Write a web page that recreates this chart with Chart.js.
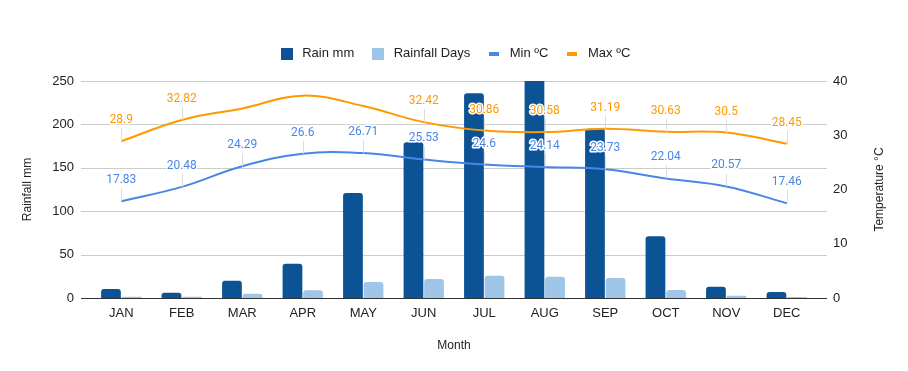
<!DOCTYPE html>
<html>
<head>
<meta charset="utf-8">
<script src="https://cdn.jsdelivr.net/npm/chart.js@4/dist/chart.umd.min.js"></script>
<style>
  html, body { margin: 0; padding: 0; background: #ffffff; }
  #wrap { width: 908px; height: 371px; position: relative; }
</style>
</head>
<body>
<div id="wrap"><canvas id="c" width="908" height="371"></canvas></div>
<script>
// ---- data ----
const months = ['JAN', 'FEB', 'MAR', 'APR', 'MAY', 'JUN', 'JUL', 'AUG', 'SEP', 'OCT', 'NOV', 'DEC'];
const rainMm = [10.5, 6, 20, 39.5, 121, 179.5, 236, 265, 195, 71, 13, 7];
const rainfallDays = [1.5, 1.5, 5, 9, 18.5, 22, 25.5, 24.5, 23, 9.2, 2.5, 1.2];
const minTemp = [17.83, 20.48, 24.29, 26.6, 26.71, 25.53, 24.6, 24.14, 23.73, 22.04, 20.57, 17.46];
const maxTemp = [28.9, 32.82, 34.95, 37.3, 35.4, 32.42, 30.86, 30.58, 31.19, 30.63, 30.5, 28.45];
const maxLabelShown = [true, true, false, false, false, true, true, true, true, true, true, true];
const minLabelShown = [true, true, true, true, true, true, true, true, true, true, true, true];
const rainTicks = [0, 50, 100, 150, 200, 250];
const tempTicks = [0, 10, 20, 30, 40];
const rightTitle = 'Temperature °C';

const C_RAIN = '#0b5394';
const C_DAYS = '#9fc5e8';
const C_MIN = '#4a86e8';
const C_MAX = '#ff9900';
const FONT = "'Liberation Sans', Arial, sans-serif";

function iconRect(color) {
  const cv = document.createElement('canvas');
  cv.width = 12; cv.height = 12;
  const g = cv.getContext('2d');
  g.fillStyle = color; g.fillRect(0, 0, 12, 12);
  return cv;
}
function iconLine(color) {
  const cv = document.createElement('canvas');
  cv.width = 10; cv.height = 4;
  const g = cv.getContext('2d');
  g.fillStyle = color; g.fillRect(0, 0, 10, 4);
  return cv;
}
const icons = [iconRect(C_RAIN), iconRect(C_DAYS), iconLine(C_MIN), iconLine(C_MAX)];

// custom horizontal gridlines extending 10px beyond the category area
const gridPlugin = {
  id: 'gridExt',
  beforeDatasetsDraw(chart) {
    const ctx = chart.ctx, a = chart.chartArea, y = chart.scales.y;
    ctx.save();
    y.ticks.forEach(t => {
      const py = Math.round(y.getPixelForValue(t.value)) + 0.5;
      ctx.strokeStyle = t.value === 0 ? '#333333' : '#cccccc';
      ctx.lineWidth = 1;
      ctx.beginPath();
      ctx.moveTo(a.left - 10, py);
      ctx.lineTo(a.right + 10, py);
      ctx.stroke();
    });
    ctx.restore();
  },
  afterDraw(chart) {
    const ctx = chart.ctx, a = chart.chartArea;
    ctx.save();
    ctx.translate(880, (a.top + a.bottom) / 2);
    ctx.rotate(-Math.PI / 2);
    ctx.font = '12px ' + FONT;
    ctx.fillStyle = '#222222';
    ctx.textAlign = 'center';
    ctx.textBaseline = 'middle';
    ctx.fillText(rightTitle, 0, 0);
    ctx.restore();
  }
};

// legend height patch
const legendPatch = {
  id: 'legendPatch',
  beforeLayout(chart) {
    const lg = chart.legend;
    if (lg && !lg._patched) {
      const f = lg.fit.bind(lg);
      lg.fit = function () { f(); this.height = 49; };
      lg._patched = true;
    }
  }
};

// data labels with leader lines
const labelPlugin = {
  id: 'pointLabels',
  afterDatasetsDraw(chart) {
    const ctx = chart.ctx;
    const defs = [
      { idx: 2, values: minTemp, shown: minLabelShown, color: C_MIN },
      { idx: 3, values: maxTemp, shown: maxLabelShown, color: C_MAX }
    ];
    ctx.save();
    ctx.font = "12px Roboto, Arial, sans-serif";
    ctx.textAlign = 'center';
    ctx.textBaseline = 'middle';
    defs.forEach(d => {
      const meta = chart.getDatasetMeta(d.idx);
      meta.data.forEach((pt, i) => {
        if (!d.shown[i]) return;
        const x = pt.x, y = pt.y, ly = y - 21;
        ctx.strokeStyle = '#dddddd';
        ctx.lineWidth = 1;
        ctx.beginPath();
        ctx.moveTo(Math.round(x) + 0.5, y);
        ctx.lineTo(Math.round(x) + 0.5, ly + 8);
        ctx.stroke();
      });
    });
    defs.forEach(d => {
      const meta = chart.getDatasetMeta(d.idx);
      meta.data.forEach((pt, i) => {
        if (!d.shown[i]) return;
        const txt = String(d.values[i]);
        const x = pt.x, ly = pt.y - 21;
        ctx.lineWidth = 3;
        ctx.lineJoin = 'round';
        ctx.strokeStyle = '#ffffff';
        ctx.strokeText(txt, x, ly);
        ctx.fillStyle = d.color;
        ctx.fillText(txt, x, ly);
      });
    });
    ctx.restore();
  }
};

new Chart(document.getElementById('c'), {
  data: {
    labels: months,
    datasets: [
      { type: 'bar', label: 'Rain mm', data: rainMm, backgroundColor: C_RAIN, yAxisID: 'y',
        borderRadius: 3, borderSkipped: 'bottom', categoryPercentage: 0.68, barPercentage: 0.96, order: 2 },
      { type: 'bar', label: 'Rainfall Days', data: rainfallDays, backgroundColor: C_DAYS, yAxisID: 'y',
        borderRadius: 3, borderSkipped: 'bottom', categoryPercentage: 0.68, barPercentage: 0.96, order: 2 },
      { type: 'line', label: 'Min ºC', data: minTemp, borderColor: C_MIN, backgroundColor: C_MIN, yAxisID: 'y1',
        borderWidth: 2, pointRadius: 0, tension: 0.4, order: 1 },
      { type: 'line', label: 'Max ºC', data: maxTemp, borderColor: C_MAX, backgroundColor: C_MAX, yAxisID: 'y1',
        borderWidth: 2, pointRadius: 0, tension: 0.4, order: 0 }
    ]
  },
  options: {
    responsive: false,
    animation: false,
    devicePixelRatio: 1,
    layout: { padding: { top: 32, left: 0, right: 0, bottom: 0 } },
    plugins: {
      tooltip: { enabled: false },
      legend: {
        position: 'top',
        align: 'center',
        labels: {
          usePointStyle: true,
          pointStyleWidth: 18,
          padding: 15,
          color: '#222222',
          font: { family: FONT, size: 13 },
          sort: (a, b) => a.datasetIndex - b.datasetIndex,
          generateLabels(chart) {
            return chart.data.datasets.map((ds, i) => ({
              text: ds.label,
              datasetIndex: i,
              pointStyle: icons[i],
              fillStyle: 'transparent',
              strokeStyle: 'transparent',
              lineWidth: 0,
              fontColor: '#222222',
              hidden: false
            }));
          }
        }
      }
    },
    scales: {
      x: {
        grid: { display: false, drawTicks: false },
        border: { display: false },
        ticks: { color: '#222222', font: { family: FONT, size: 13 }, padding: 8, maxRotation: 0, autoSkip: false },
        title: { display: true, text: 'Month', color: '#222222', font: { family: FONT, size: 12 }, padding: { top: 0, bottom: 18 } },
        afterFit(s) { s.height = 73; }
      },
      y: {
        position: 'left',
        min: 0, max: 250,
        afterBuildTicks(s) { s.ticks = rainTicks.map(v => ({ value: v })); },
        grid: { display: false, drawTicks: false },
        border: { display: false },
        ticks: { color: '#222222', font: { family: FONT, size: 13 }, padding: 17 },
        title: { display: true, text: 'Rainfall mm', color: '#222222', font: { family: FONT, size: 12 }, padding: { top: 20, bottom: 0 } },
        afterFit(s) { s.width = 91; }
      },
      y1: {
        position: 'right',
        min: 0, max: 40,
        afterBuildTicks(s) { s.ticks = tempTicks.map(v => ({ value: v })); },
        grid: { display: false, drawTicks: false },
        border: { display: false },
        ticks: { color: '#222222', font: { family: FONT, size: 13 }, padding: 16 },
        title: { display: false },
        afterFit(s) { s.width = 91; }
      }
    }
  },
  plugins: [legendPatch, gridPlugin, labelPlugin]
});
</script>
</body>
</html>
